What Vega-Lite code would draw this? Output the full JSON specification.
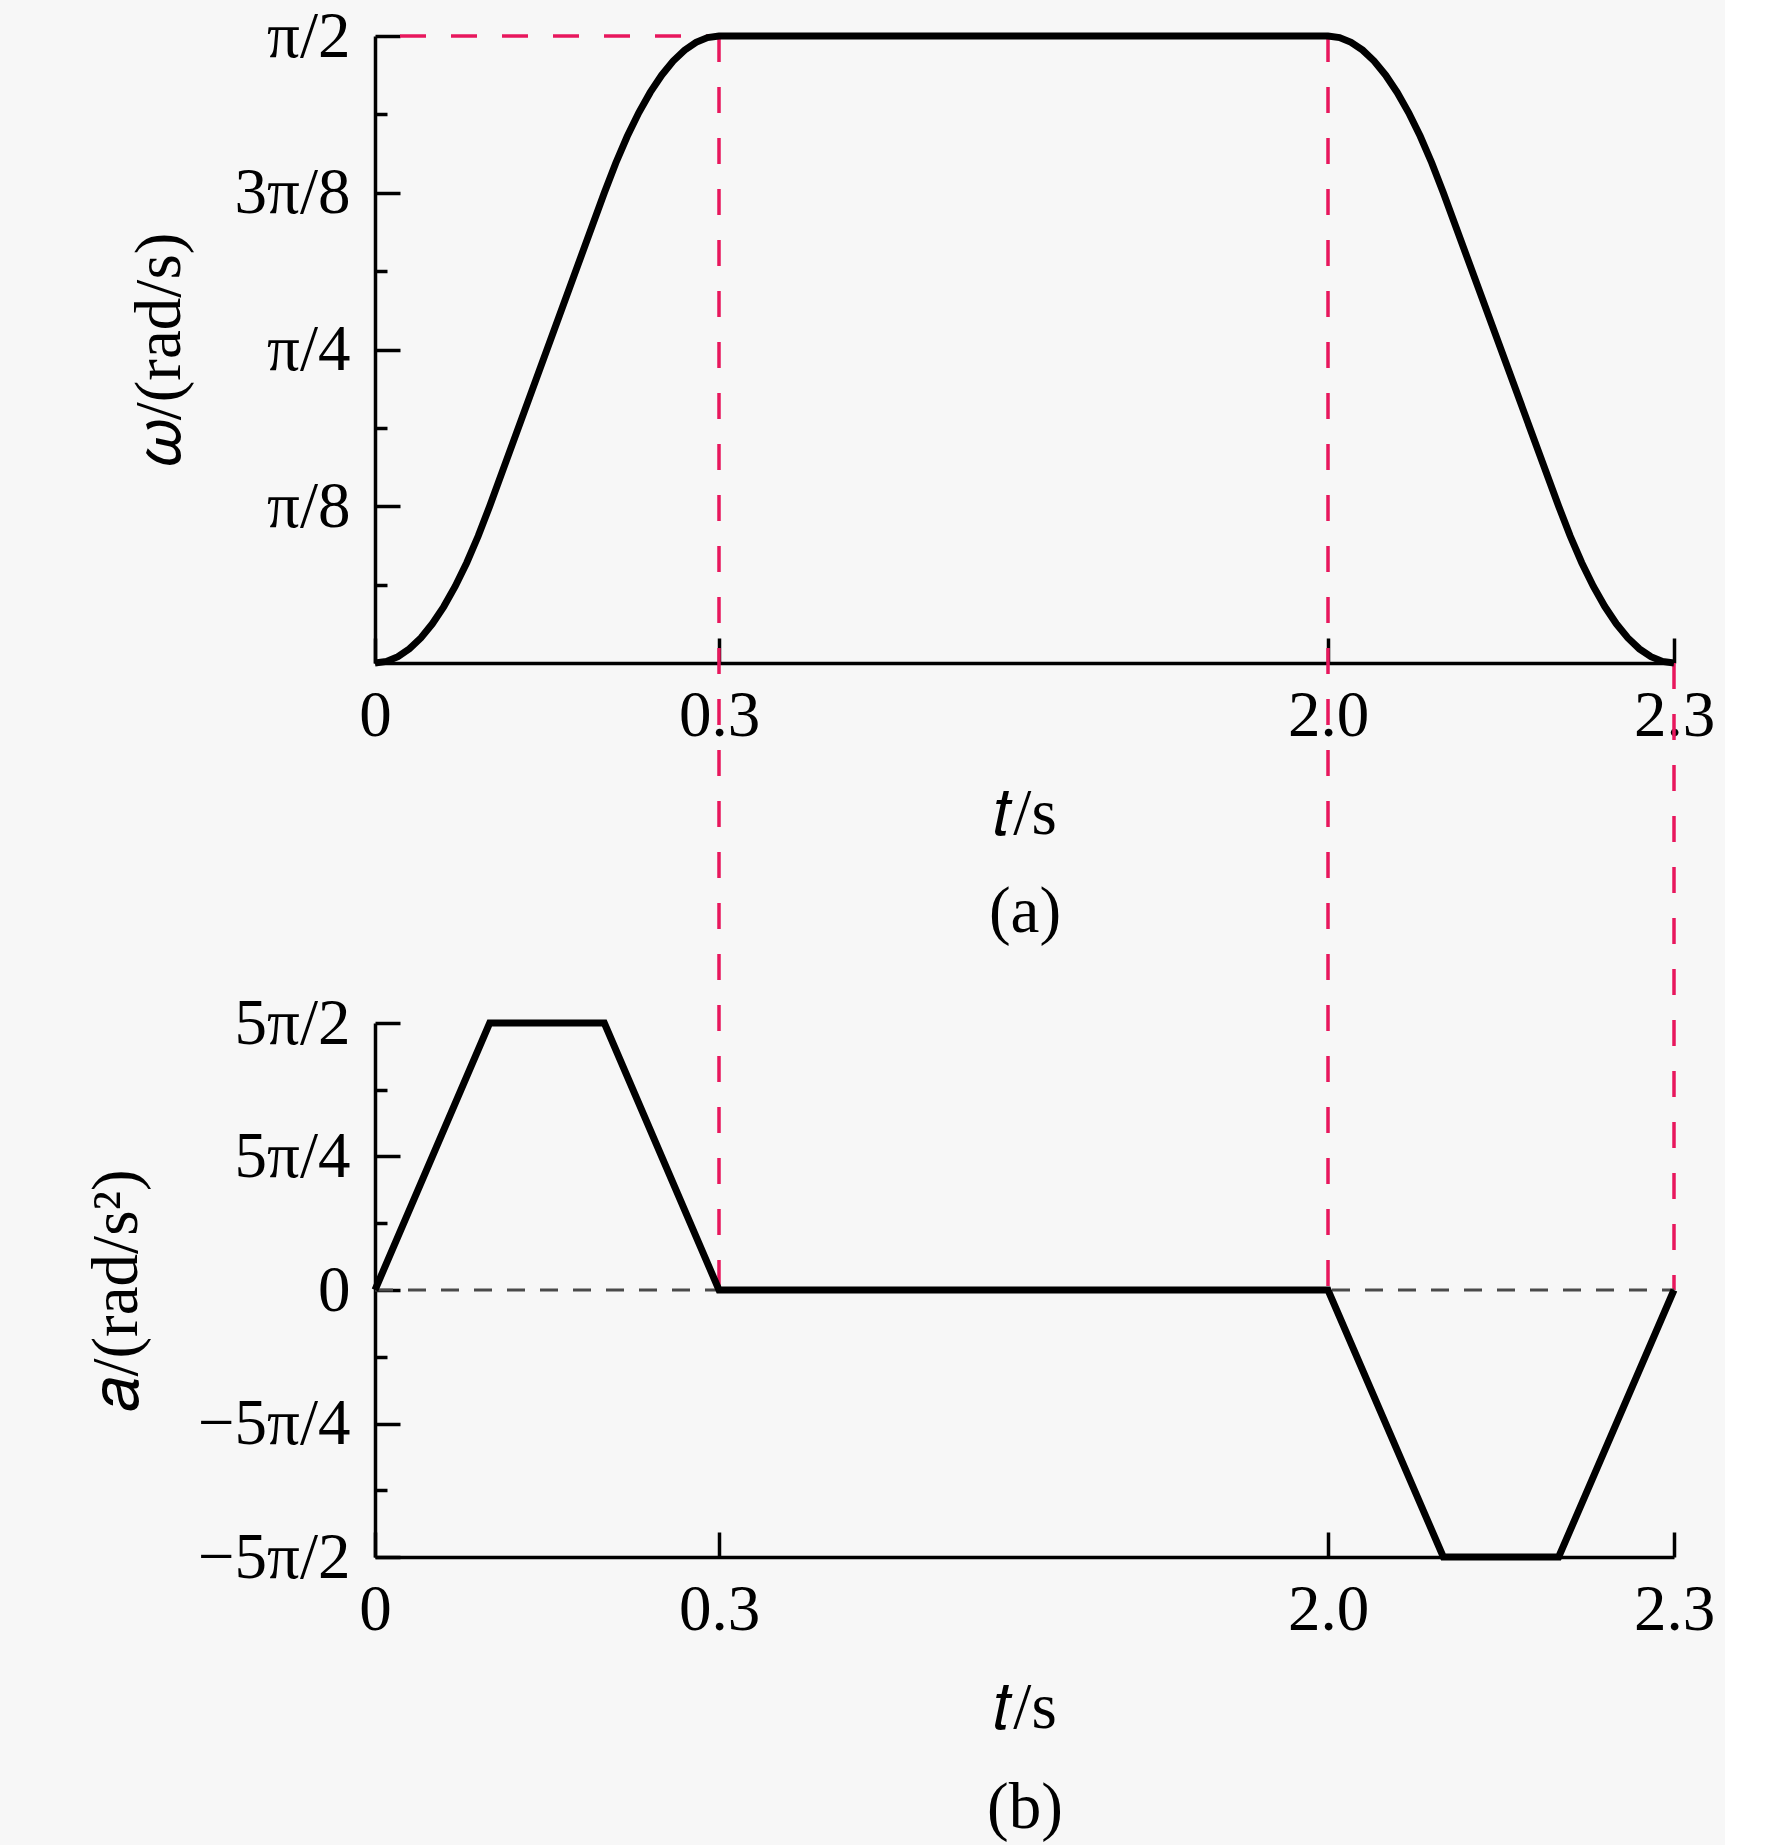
{
  "$schema": "https://vega.github.io/schema/vega-lite/v6.json",
  "background": "#f7f7f7",
  "padding": {"left": 84, "top": 4, "right": 10, "bottom": 10},
  "autosize": {"type": "pad"},
  "config": {
    "font": "Liberation Serif",
    "view": {"stroke": null},
    "axis": {
      "grid": false,
      "domainColor": "black",
      "domainWidth": 3.5,
      "tickColor": "black",
      "tickWidth": 3.5,
      "labelFont": "Liberation Serif",
      "labelFontSize": 65,
      "labelColor": "black",
      "titleFont": "Liberation Serif",
      "titleFontSize": 65,
      "titleFontWeight": "normal",
      "titleColor": "black",
      "labelOverlap": false,
      "labelFlush": false
    }
  },
  "datasets": {
    "omega": [
      {"t": 0, "w": 0}, {"t": 0.01, "w": 0.003927}, {"t": 0.02, "w": 0.015708}, {"t": 0.03, "w": 0.035343},
      {"t": 0.04, "w": 0.062832}, {"t": 0.05, "w": 0.098175}, {"t": 0.06, "w": 0.141372}, {"t": 0.07, "w": 0.192423},
      {"t": 0.08, "w": 0.251327}, {"t": 0.09, "w": 0.318086}, {"t": 0.1, "w": 0.392699}, {"t": 0.2, "w": 1.178097},
      {"t": 0.21, "w": 1.25271}, {"t": 0.22, "w": 1.319469}, {"t": 0.23, "w": 1.378373}, {"t": 0.24, "w": 1.429425},
      {"t": 0.25, "w": 1.472622}, {"t": 0.26, "w": 1.507964}, {"t": 0.27, "w": 1.535454}, {"t": 0.28, "w": 1.555088},
      {"t": 0.29, "w": 1.566869}, {"t": 0.3, "w": 1.570796}, {"t": 2.0, "w": 1.570796}, {"t": 2.01, "w": 1.566869},
      {"t": 2.02, "w": 1.555088}, {"t": 2.03, "w": 1.535454}, {"t": 2.04, "w": 1.507964}, {"t": 2.05, "w": 1.472622},
      {"t": 2.06, "w": 1.429425}, {"t": 2.07, "w": 1.378373}, {"t": 2.08, "w": 1.319469}, {"t": 2.09, "w": 1.25271},
      {"t": 2.1, "w": 1.178097}, {"t": 2.2, "w": 0.392699}, {"t": 2.21, "w": 0.318086}, {"t": 2.22, "w": 0.251327},
      {"t": 2.23, "w": 0.192423}, {"t": 2.24, "w": 0.141372}, {"t": 2.25, "w": 0.098175}, {"t": 2.26, "w": 0.062832},
      {"t": 2.27, "w": 0.035343}, {"t": 2.28, "w": 0.015708}, {"t": 2.29, "w": 0.003927}, {"t": 2.3, "w": 0}
    ],
    "accel": [
      {"t": 0, "a": 0}, {"t": 0.1, "a": 7.853982}, {"t": 0.2, "a": 7.853982}, {"t": 0.3, "a": 0},
      {"t": 2.0, "a": 0}, {"t": 2.1, "a": -7.853982}, {"t": 2.2, "a": -7.853982}, {"t": 2.3, "a": 0}
    ],
    "guideV": [
      {"t": 0.3, "w": 1.570796, "w2": -1.570796},
      {"t": 2.0, "w": 1.570796, "w2": -1.570796},
      {"t": 2.3, "w": 0, "w2": -1.570796}
    ],
    "guideH": [
      {"t": 0, "t2": 0.3, "w": 1.570796}
    ],
    "zeroLine": [
      {"t": 0, "t2": 2.3, "a": 0}
    ]
  },
  "vconcat": [
    {
      "width": 1299,
      "height": 627,
      "layer": [
        {
          "data": {"name": "guideV"},
          "mark": {"type": "rule", "color": "#e8175d", "strokeWidth": 3.5, "strokeDash": [26, 25]},
          "encoding": {
            "x": {"field": "t", "type": "quantitative"},
            "y": {"field": "w", "type": "quantitative"},
            "y2": {"field": "w2"}
          }
        },
        {
          "data": {"name": "guideH"},
          "mark": {"type": "rule", "color": "#e8175d", "strokeWidth": 3.5, "strokeDash": [26, 25], "strokeDashOffset": -25},
          "encoding": {
            "x": {"field": "t", "type": "quantitative"},
            "x2": {"field": "t2"},
            "y": {"field": "w", "type": "quantitative"}
          }
        },
        {
          "data": {"name": "omega"},
          "mark": {"type": "line", "color": "black", "strokeWidth": 7},
          "encoding": {
            "x": {
              "field": "t", "type": "quantitative",
              "scale": {"type": "linear", "domain": [0, 0.3, 2.0, 2.3], "range": [0, 344, 953, 1299], "nice": false, "zero": false},
              "axis": {
                "values": [0, 0.3, 2.0, 2.3],
                "labelExpr": "datum.value == 0 ? '0' : format(datum.value, '.1f')",
                "tickSize": -25,
                "labelPadding": 46,
                "title": ["𝑡/s", "(a)"],
                "titleLineHeight": 98,
                "titlePadding": 34
              }
            },
            "y": {
              "field": "w", "type": "quantitative",
              "scale": {"domain": [0, 1.57079633], "nice": false},
              "axis": {
                "values": [0.19634954, 0.39269908, 0.58904862, 0.78539816, 0.9817477, 1.17809725, 1.37444679, 1.57079633],
                "labelExpr": "round(datum.value/(PI/16)) == 2 ? 'π/8' : round(datum.value/(PI/16)) == 4 ? 'π/4' : round(datum.value/(PI/16)) == 6 ? '3π/8' : round(datum.value/(PI/16)) == 8 ? 'π/2' : ''",
                "tickSize": {"condition": {"test": "round(datum.value/(PI/16)) % 2 == 0", "value": -25}, "value": -12},
                "labelPadding": 50,
                "title": "𝜔/(rad/s)",
                "titlePadding": 41
              }
            }
          }
        }
      ]
    },
    {
      "width": 1299,
      "height": 534,
      "layer": [
        {
          "data": {"name": "zeroLine"},
          "mark": {"type": "rule", "color": "#4a4a4a", "strokeWidth": 3, "strokeDash": [18, 15]},
          "encoding": {
            "x": {"field": "t", "type": "quantitative"},
            "x2": {"field": "t2"},
            "y": {"field": "a", "type": "quantitative"}
          }
        },
        {
          "data": {"name": "accel"},
          "mark": {"type": "line", "color": "black", "strokeWidth": 7},
          "encoding": {
            "x": {
              "field": "t", "type": "quantitative",
              "scale": {"type": "linear", "domain": [0, 0.3, 2.0, 2.3], "range": [0, 344, 953, 1299], "nice": false, "zero": false},
              "axis": {
                "values": [0, 0.3, 2.0, 2.3],
                "labelExpr": "datum.value == 0 ? '0' : format(datum.value, '.1f')",
                "tickSize": -25,
                "labelPadding": 46,
                "title": ["𝑡/s", "(b)"],
                "titleLineHeight": 100,
                "titlePadding": 34
              }
            },
            "y": {
              "field": "a", "type": "quantitative",
              "scale": {"domain": [-7.85398163, 7.85398163], "nice": false},
              "axis": {
                "values": [-7.85398163, -5.89048623, -3.92699082, -1.96349541, 0, 1.96349541, 3.92699082, 5.89048623, 7.85398163],
                "labelExpr": "round(datum.value/(5*PI/8)) == 4 ? '5π/2' : round(datum.value/(5*PI/8)) == 2 ? '5π/4' : round(datum.value/(5*PI/8)) == 0 ? '0' : round(datum.value/(5*PI/8)) == -2 ? '−5π/4' : round(datum.value/(5*PI/8)) == -4 ? '−5π/2' : ''",
                "tickSize": {"condition": {"test": "round(datum.value/(5*PI/8)) % 2 == 0", "value": -25}, "value": -12},
                "labelPadding": 50,
                "title": "𝑎/(rad/s²)",
                "titlePadding": 47
              }
            }
          }
        }
      ]
    }
  ],
  "spacing": 360,
  "bounds": "flush"
}
